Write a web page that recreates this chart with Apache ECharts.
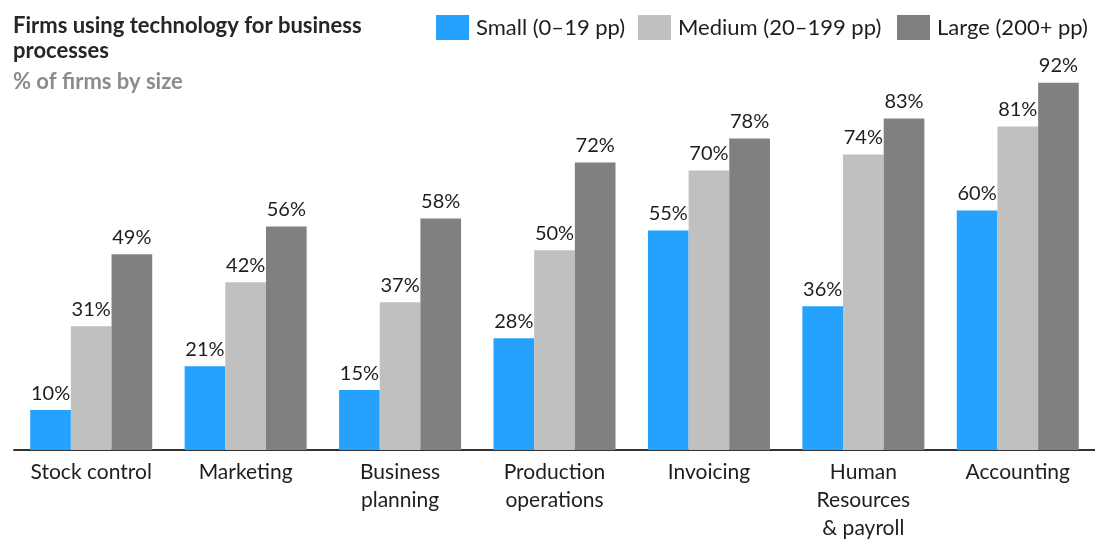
<!DOCTYPE html>
<html>
<head>
<meta charset="utf-8">
<script src="https://cdn.jsdelivr.net/npm/echarts@6/dist/echarts.min.js"></script>
<style>
html,body{margin:0;padding:0;background:#fff;}
#chart{width:1095px;height:542px;}
</style>
</head>
<body>
<div id="chart"></div>
<script>
// Business processes (x categories)
const categories = ['Stock control', 'Marketing', 'Business\nplanning', 'Production\noperations', 'Invoicing', 'Human\nResources\n& payroll', 'Accounting'];
// Share of firms using technology, by firm size (%)
const smallFirms = [10, 21, 15, 28, 55, 36, 60];
const mediumFirms = [31, 42, 37, 50, 70, 74, 81];
const largeFirms = [49, 56, 58, 72, 78, 83, 92];
const seriesNames = ['Small (0\u201319 pp)', 'Medium (20\u2013199 pp)', 'Large (200+ pp)'];
const seriesColors = ['#24a2fe', '#c0c0c0', '#808080'];

const FONT = 'Lato, "Open Sans", sans-serif';
const chart = echarts.init(document.getElementById('chart'), null, {renderer: 'canvas'});

function barSeries(name, data, color) {
  return {
    name: name,
    type: 'bar',
    data: data,
    barGap: '0%',
    barCategoryGap: '21%',
    itemStyle: {color: color},
    label: {
      show: true,
      position: 'top',
      distance: 7,
      formatter: '{c}%',
      color: '#1e1e1e',
      fontFamily: FONT,
      fontSize: 20
    },
    emphasis: {disabled: true}
  };
}

// one legend block per series so each key sits at its own spot
const legendLefts = [431, 633, 892];
const legends = seriesNames.map((name, i) => ({
  left: legendLefts[i], top: 10,
  itemWidth: 33, itemHeight: 25,
  icon: 'rect',
  itemGap: 0,
  textStyle: {fontFamily: FONT, fontSize: 22, color: '#1e1e1e', padding: [0, 0, 0, 2]},
  data: [name]
}));

chart.setOption({
  animation: false,
  title: [
    {
      text: 'Firms using technology for business\nprocesses',
      left: 8, top: 8,
      textStyle: {fontFamily: FONT, fontSize: 22, fontWeight: 'bold', color: '#262626', lineHeight: 25}
    },
    {
      text: '% of firms by size',
      left: 8, top: 64,
      textStyle: {fontFamily: FONT, fontSize: 22, fontWeight: 'bold', color: '#8c8c8c', lineHeight: 25}
    }
  ],
  legend: legends,
  grid: {left: 14, right: -9, top: 50.7, bottom: 91.3, containLabel: false},
  xAxis: {
    type: 'category',
    data: categories,
    axisTick: {show: false},
    axisLine: {lineStyle: {color: '#333', width: 2}},
    axisLabel: {fontFamily: FONT, fontSize: 21, color: '#1e1e1e', margin: 8, lineHeight: 28, interval: 0}
  },
  yAxis: {
    type: 'value',
    min: 0, max: 100,
    show: false,
    splitLine: {show: false}
  },
  series: [
    barSeries(seriesNames[0], smallFirms, seriesColors[0]),
    barSeries(seriesNames[1], mediumFirms, seriesColors[1]),
    barSeries(seriesNames[2], largeFirms, seriesColors[2])
  ]
});
</script>
</body>
</html>
